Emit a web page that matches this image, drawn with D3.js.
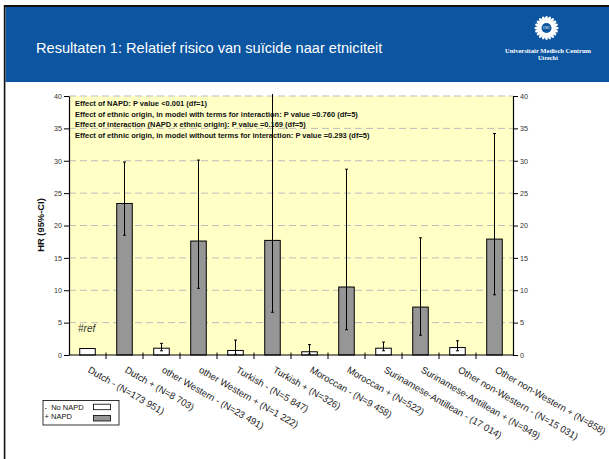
<!DOCTYPE html>
<html>
<head>
<meta charset="utf-8">
<script src="https://cdn.jsdelivr.net/npm/d3@7"></script>
<style>
  html, body { margin: 0; padding: 0; background: #ffffff; }
  svg { display: block; font-family: Arial, "Liberation Sans", Helvetica, sans-serif; }
</style>
</head>
<body>
<svg id="slide" width="609" height="459"></svg>
<script>
// Hazard ratios of suicide by ethnic origin, without (-) and with (+) NAPD
const categories = [
  "Dutch - (N=173 951)",
  "Dutch + (N=8 703)",
  "other Western - (N=23 491)",
  "other Western + (N=1 222)",
  "Turkish - (N=5 847)",
  "Turkish + (N=326)",
  "Moroccan - (N=9 458)",
  "Moroccan + (N=522)",
  "Surinamese-Antillean - (17 014)",
  "Surinamese-Antillean + (N=949)",
  "Other non-Western - (N=15 031)",
  "Other non-Western + (N=858)"
];
const napdGroup = ["-", "+", "-", "+", "-", "+", "-", "+", "-", "+", "-", "+"];
const hr     = [1.0, 23.4, 1.05, 17.6, 0.7, 17.7, 0.5, 10.5, 1.05, 7.4, 1.15, 17.9];
const ciLow  = [null, 18.5, 0.65, 10.3, 0.1, 6.6, 0.15, 3.9, 0.65, 3.05, 0.65, 9.3];
const ciHigh = [null, 29.8, 1.8, 30.1, 2.3, 48, 1.6, 28.7, 2.0, 18.1, 2.2, 34.2];
const yTicks = [0, 5, 10, 15, 20, 25, 30, 35, 40];
const legendLabels = ["-  No NAPD", "+ NAPD"];
const notes = [
  "Effect of NAPD: P value <0.001 (df=1)",
  "Effect of ethnic origin, in model with terms for interaction: P value =0.760 (df=5)",
  "Effect of interaction (NAPD x ethnic origin): P value =0.169 (df=5)",
  "Effect of ethnic origin, in model without terms for interaction: P value =0.293 (df=5)"
];
const title = "Resultaten 1: Relatief risico van suïcide naar etniciteit";

const svg = d3.select("#slide");

// ---- slide frame and header ----
svg.append("rect").attr("x", 5.5).attr("y", 7).attr("width", 604).attr("height", 75).attr("fill", "#0b55a1");
svg.append("line").attr("x1", 4.5).attr("x2", 609).attr("y1", 6).attr("y2", 6).attr("stroke", "#111").attr("stroke-width", 2);
svg.append("line").attr("x1", 4.6).attr("x2", 4.6).attr("y1", 5).attr("y2", 459).attr("stroke", "#111").attr("stroke-width", 1.6);

svg.append("text").attr("x", 36).attr("y", 53)
  .attr("fill", "#fff").attr("font-size", 14.6).text(title);

// UMC Utrecht logo
const logo = svg.append("g").attr("transform", "translate(546.5,28)");
d3.range(20).forEach(i => {
  const a = i * 18;
  logo.append("ellipse").attr("cx", 0).attr("cy", -9).attr("rx", 1.5).attr("ry", 3)
    .attr("fill", "#fff").attr("transform", `rotate(${a})`);
});
logo.append("circle").attr("r", 7.5).attr("fill", "#fff");
logo.append("circle").attr("r", 5).attr("fill", "#0b55a1");
logo.append("text").attr("y", 1.2).attr("text-anchor", "middle").attr("font-size", 3)
  .attr("fill", "#fff").attr("font-family", "serif").text("UMC");
svg.append("text").attr("x", 548).attr("y", 52.5).attr("text-anchor", "middle")
  .attr("font-family", "'Liberation Serif', 'DejaVu Serif', serif").attr("font-weight", "bold")
  .attr("font-size", 6.2).attr("textLength", 86).attr("lengthAdjust", "spacingAndGlyphs")
  .attr("fill", "#fff").text("Universitair Medisch Centrum");
svg.append("text").attr("x", 548).attr("y", 59.5).attr("text-anchor", "middle")
  .attr("font-family", "'Liberation Serif', 'DejaVu Serif', serif").attr("font-weight", "bold")
  .attr("font-size", 6.2).attr("fill", "#fff").text("Utrecht");

// ---- chart ----
const plot = { left: 69, right: 513, top: 96, bottom: 355 };
const x = d3.scaleBand().domain(categories).range([plot.left, plot.right]).padding(0);
const y = d3.scaleLinear().domain([0, 40]).range([plot.bottom, plot.top]);
const barW = x.bandwidth() * 0.42;

svg.append("rect").attr("x", plot.left).attr("y", plot.top)
  .attr("width", plot.right - plot.left).attr("height", plot.bottom - plot.top)
  .attr("fill", "#ffffc6");

// dashed gridlines
svg.append("g").selectAll("line").data(yTicks.filter(d => d > 0)).join("line")
  .attr("x1", plot.left).attr("x2", plot.right)
  .attr("y1", d => y(d)).attr("y2", d => y(d))
  .attr("stroke", "#bdbdbd").attr("stroke-width", 1).attr("stroke-dasharray", "7,4");

// axes
const styleAxis = g => {
  g.select(".domain").attr("stroke", "#000").attr("stroke-width", 1.2);
  g.selectAll(".tick line").attr("stroke", "#000");
  g.selectAll(".tick text").attr("fill", "#333").attr("font-size", 7.2);
};
svg.append("g").attr("transform", `translate(${plot.left},0)`)
  .call(d3.axisLeft(y).tickValues(yTicks).tickSize(5).tickSizeOuter(0).tickPadding(2))
  .call(styleAxis).attr("font-family", null);
svg.append("g").attr("transform", `translate(${plot.right},0)`)
  .call(d3.axisRight(y).tickValues(yTicks).tickSize(5).tickSizeOuter(0).tickPadding(2))
  .call(styleAxis).attr("font-family", null);

// bars
const data = categories.map((c, i) => ({ c, g: napdGroup[i], v: hr[i], lo: ciLow[i], hi: ciHigh[i] }));
svg.append("g").selectAll("rect").data(data).join("rect")
  .attr("x", d => x(d.c) + (x.bandwidth() - barW) / 2)
  .attr("y", d => y(d.v))
  .attr("width", barW)
  .attr("height", d => y(0) - y(d.v))
  .attr("fill", d => d.g === "+" ? "#969696" : "#ffffff")
  .attr("stroke", "#000").attr("stroke-width", 1);

// x axis line with ticks between categories
svg.append("line").attr("x1", plot.left).attr("x2", plot.right)
  .attr("y1", y(0)).attr("y2", y(0)).attr("stroke", "#000").attr("stroke-width", 1.2);
svg.append("g").selectAll("line").data(categories.slice(1)).join("line")
  .attr("x1", d => x(d)).attr("x2", d => x(d))
  .attr("y1", y(0) - 2.5).attr("y2", y(0) + 4)
  .attr("stroke", "#000");

// 95% confidence intervals (clipped at the top of the value axis)
svg.append("clipPath").attr("id", "plotClip").append("rect")
  .attr("x", plot.left).attr("y", plot.top - 2)
  .attr("width", plot.right - plot.left).attr("height", plot.bottom - plot.top + 2);
const ci = svg.append("g").attr("clip-path", "url(#plotClip)")
  .selectAll("g").data(data.filter(d => d.lo != null)).join("g")
  .attr("stroke", "#000").attr("stroke-width", 1);
ci.append("line")
  .attr("x1", d => x(d.c) + x.bandwidth() / 2).attr("x2", d => x(d.c) + x.bandwidth() / 2)
  .attr("y1", d => y(d.lo)).attr("y2", d => y(d.hi));
["lo", "hi"].forEach(k => {
  ci.append("line")
    .attr("x1", d => x(d.c) + x.bandwidth() / 2 - 1.5).attr("x2", d => x(d.c) + x.bandwidth() / 2 + 1.5)
    .attr("y1", d => y(d[k])).attr("y2", d => y(d[k]));
});

// reference category marker
svg.append("text")
  .attr("x", x(categories[0]) + 9).attr("y", y(3.5))
  .attr("font-size", 10).attr("font-style", "italic").attr("fill", "#333").text("#ref");

// statistical test notes
svg.append("g").selectAll("text").data(notes).join("text")
  .attr("x", 75).attr("y", (d, i) => 106 + i * 10.5)
  .attr("font-size", 7.5).attr("font-weight", "bold").attr("fill", "#111").text(d => d);

// y title
svg.append("text")
  .attr("transform", `translate(44,225) rotate(-90)`)
  .attr("text-anchor", "middle").attr("font-size", 9.4).attr("font-weight", "bold")
  .attr("fill", "#111").text("HR (95%-CI)");

// rotated category labels
svg.append("g").selectAll("text").data(categories).join("text")
  .attr("transform", d => `translate(${x(d) + x.bandwidth() / 2 + 3},366) rotate(30)`)
  .attr("dy", "0.7em")
  .attr("font-size", 9.5).attr("fill", "#222").text(d => d);

// legend
const leg = svg.append("g");
leg.append("rect").attr("x", 43).attr("y", 400.5).attr("width", 76).attr("height", 24.5)
  .attr("fill", "#fff").attr("stroke", "#000").attr("stroke-width", 0.8);
legendLabels.forEach((t, i) => {
  leg.append("text").attr("x", 44.5).attr("y", 409.5 + i * 9.5)
    .attr("font-size", 7.5).attr("fill", "#111").attr("xml:space", "preserve").text(t);
  leg.append("rect").attr("x", 93.5).attr("y", 404.2 + i * 11.3).attr("width", 17).attr("height", 5.5)
    .attr("fill", i === 0 ? "#fff" : "#969696").attr("stroke", "#000").attr("stroke-width", 0.8);
});
</script>
</body>
</html>
